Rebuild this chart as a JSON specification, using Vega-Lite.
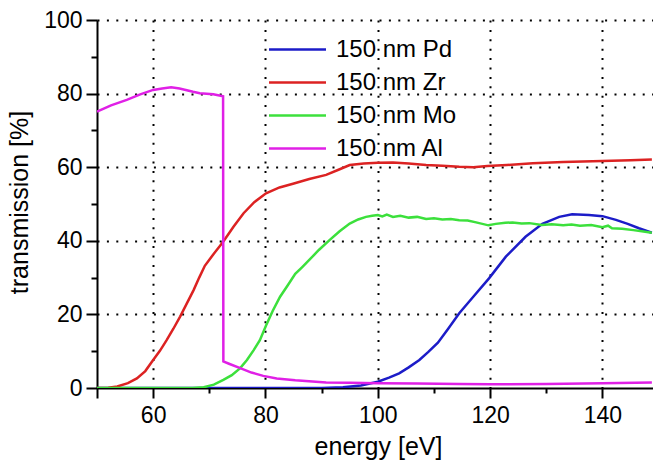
{
  "$schema": "https://vega.github.io/schema/vega-lite/v6.json",
  "width": 556,
  "height": 368,
  "autosize": "none",
  "padding": {"left": 97, "top": 20, "right": 0, "bottom": 73},
  "background": "white",
  "config": {
    "view": {"stroke": null},
    "font": "Liberation Sans",
    "axis": {
      "domainColor": "black", "domainWidth": 2,
      "tickColor": "black", "tickWidth": 2,
      "labelColor": "black", "labelFontSize": 23, "labelFont": "Liberation Sans",
      "titleColor": "black", "titleFontSize": 25, "titleFontWeight": "normal", "titleFont": "Liberation Sans",
      "gridColor": "black", "gridWidth": 2, "gridDash": [2, 7.4]
    }
  },
  "data": {
    "values": [
      {"E": 50, "T": 0, "s": "150 nm Pd"},
      {"E": 60, "T": 0, "s": "150 nm Pd"},
      {"E": 70, "T": 0, "s": "150 nm Pd"},
      {"E": 80, "T": 0, "s": "150 nm Pd"},
      {"E": 90, "T": 0, "s": "150 nm Pd"},
      {"E": 93.8, "T": 0.2, "s": "150 nm Pd"},
      {"E": 97, "T": 0.7, "s": "150 nm Pd"},
      {"E": 100, "T": 1.7, "s": "150 nm Pd"},
      {"E": 102, "T": 2.8, "s": "150 nm Pd"},
      {"E": 103.8, "T": 4, "s": "150 nm Pd"},
      {"E": 105.5, "T": 5.6, "s": "150 nm Pd"},
      {"E": 107.4, "T": 7.6, "s": "150 nm Pd"},
      {"E": 109, "T": 9.8, "s": "150 nm Pd"},
      {"E": 110.7, "T": 12.3, "s": "150 nm Pd"},
      {"E": 112.5, "T": 16, "s": "150 nm Pd"},
      {"E": 114.5, "T": 20.3, "s": "150 nm Pd"},
      {"E": 117, "T": 24.8, "s": "150 nm Pd"},
      {"E": 119.8, "T": 29.8, "s": "150 nm Pd"},
      {"E": 122.8, "T": 35.7, "s": "150 nm Pd"},
      {"E": 126.3, "T": 41.1, "s": "150 nm Pd"},
      {"E": 129.3, "T": 44.6, "s": "150 nm Pd"},
      {"E": 132.3, "T": 46.5, "s": "150 nm Pd"},
      {"E": 134.6, "T": 47.2, "s": "150 nm Pd"},
      {"E": 137.6, "T": 47, "s": "150 nm Pd"},
      {"E": 140, "T": 46.7, "s": "150 nm Pd"},
      {"E": 142.4, "T": 45.7, "s": "150 nm Pd"},
      {"E": 144.5, "T": 44.6, "s": "150 nm Pd"},
      {"E": 146.5, "T": 43.4, "s": "150 nm Pd"},
      {"E": 148.8, "T": 42.2, "s": "150 nm Pd"},

      {"E": 50, "T": 0, "s": "150 nm Zr"},
      {"E": 52, "T": 0.1, "s": "150 nm Zr"},
      {"E": 53.6, "T": 0.4, "s": "150 nm Zr"},
      {"E": 55.5, "T": 1.3, "s": "150 nm Zr"},
      {"E": 57.1, "T": 2.6, "s": "150 nm Zr"},
      {"E": 58.6, "T": 4.6, "s": "150 nm Zr"},
      {"E": 60, "T": 7.6, "s": "150 nm Zr"},
      {"E": 61.2, "T": 10.1, "s": "150 nm Zr"},
      {"E": 62.4, "T": 13, "s": "150 nm Zr"},
      {"E": 63.6, "T": 16.1, "s": "150 nm Zr"},
      {"E": 64.8, "T": 19.4, "s": "150 nm Zr"},
      {"E": 66, "T": 23, "s": "150 nm Zr"},
      {"E": 67.2, "T": 26.6, "s": "150 nm Zr"},
      {"E": 68.2, "T": 30, "s": "150 nm Zr"},
      {"E": 69.2, "T": 33.2, "s": "150 nm Zr"},
      {"E": 70.8, "T": 36.5, "s": "150 nm Zr"},
      {"E": 72.5, "T": 39.8, "s": "150 nm Zr"},
      {"E": 74.3, "T": 43.8, "s": "150 nm Zr"},
      {"E": 76.1, "T": 47.5, "s": "150 nm Zr"},
      {"E": 78, "T": 50.5, "s": "150 nm Zr"},
      {"E": 80.1, "T": 52.9, "s": "150 nm Zr"},
      {"E": 82.5, "T": 54.5, "s": "150 nm Zr"},
      {"E": 84.9, "T": 55.5, "s": "150 nm Zr"},
      {"E": 87.8, "T": 56.8, "s": "150 nm Zr"},
      {"E": 90.8, "T": 57.9, "s": "150 nm Zr"},
      {"E": 93, "T": 59.3, "s": "150 nm Zr"},
      {"E": 95, "T": 60.6, "s": "150 nm Zr"},
      {"E": 97.5, "T": 61, "s": "150 nm Zr"},
      {"E": 100, "T": 61.2, "s": "150 nm Zr"},
      {"E": 102.7, "T": 61.3, "s": "150 nm Zr"},
      {"E": 105.5, "T": 61, "s": "150 nm Zr"},
      {"E": 108.6, "T": 60.6, "s": "150 nm Zr"},
      {"E": 111.5, "T": 60.4, "s": "150 nm Zr"},
      {"E": 114.5, "T": 60.1, "s": "150 nm Zr"},
      {"E": 117, "T": 60, "s": "150 nm Zr"},
      {"E": 119.5, "T": 60.3, "s": "150 nm Zr"},
      {"E": 123, "T": 60.6, "s": "150 nm Zr"},
      {"E": 127.6, "T": 61.1, "s": "150 nm Zr"},
      {"E": 133, "T": 61.4, "s": "150 nm Zr"},
      {"E": 140, "T": 61.7, "s": "150 nm Zr"},
      {"E": 145, "T": 61.9, "s": "150 nm Zr"},
      {"E": 148.8, "T": 62.1, "s": "150 nm Zr"},

      {"E": 50, "T": 0, "s": "150 nm Mo"},
      {"E": 60, "T": 0, "s": "150 nm Mo"},
      {"E": 67, "T": 0, "s": "150 nm Mo"},
      {"E": 69, "T": 0.2, "s": "150 nm Mo"},
      {"E": 70.8, "T": 0.9, "s": "150 nm Mo"},
      {"E": 72.5, "T": 2.2, "s": "150 nm Mo"},
      {"E": 74, "T": 3.5, "s": "150 nm Mo"},
      {"E": 75.5, "T": 5.4, "s": "150 nm Mo"},
      {"E": 76.7, "T": 7.6, "s": "150 nm Mo"},
      {"E": 77.9, "T": 10.3, "s": "150 nm Mo"},
      {"E": 79, "T": 13, "s": "150 nm Mo"},
      {"E": 80.1, "T": 17, "s": "150 nm Mo"},
      {"E": 81.3, "T": 21, "s": "150 nm Mo"},
      {"E": 82.6, "T": 24.8, "s": "150 nm Mo"},
      {"E": 84, "T": 28, "s": "150 nm Mo"},
      {"E": 85.3, "T": 31, "s": "150 nm Mo"},
      {"E": 86.5, "T": 32.8, "s": "150 nm Mo"},
      {"E": 87.8, "T": 34.8, "s": "150 nm Mo"},
      {"E": 89.5, "T": 37.5, "s": "150 nm Mo"},
      {"E": 91.4, "T": 40.2, "s": "150 nm Mo"},
      {"E": 93.2, "T": 42.6, "s": "150 nm Mo"},
      {"E": 95, "T": 44.7, "s": "150 nm Mo"},
      {"E": 96.5, "T": 45.8, "s": "150 nm Mo"},
      {"E": 97.9, "T": 46.5, "s": "150 nm Mo"},
      {"E": 99, "T": 46.8, "s": "150 nm Mo"},
      {"E": 100, "T": 47, "s": "150 nm Mo"},
      {"E": 100.8, "T": 46.6, "s": "150 nm Mo"},
      {"E": 101.6, "T": 47.1, "s": "150 nm Mo"},
      {"E": 102.7, "T": 46.5, "s": "150 nm Mo"},
      {"E": 104, "T": 46.8, "s": "150 nm Mo"},
      {"E": 105.5, "T": 46.3, "s": "150 nm Mo"},
      {"E": 107, "T": 46.5, "s": "150 nm Mo"},
      {"E": 108.6, "T": 45.9, "s": "150 nm Mo"},
      {"E": 110, "T": 46.1, "s": "150 nm Mo"},
      {"E": 111.5, "T": 45.8, "s": "150 nm Mo"},
      {"E": 113, "T": 45.9, "s": "150 nm Mo"},
      {"E": 114.5, "T": 45.6, "s": "150 nm Mo"},
      {"E": 116, "T": 45.5, "s": "150 nm Mo"},
      {"E": 117.5, "T": 45, "s": "150 nm Mo"},
      {"E": 119.7, "T": 44.2, "s": "150 nm Mo"},
      {"E": 121, "T": 44.6, "s": "150 nm Mo"},
      {"E": 122.7, "T": 44.9, "s": "150 nm Mo"},
      {"E": 124, "T": 45, "s": "150 nm Mo"},
      {"E": 125.6, "T": 44.7, "s": "150 nm Mo"},
      {"E": 127, "T": 44.8, "s": "150 nm Mo"},
      {"E": 129.2, "T": 44.3, "s": "150 nm Mo"},
      {"E": 131, "T": 44.5, "s": "150 nm Mo"},
      {"E": 133, "T": 44.2, "s": "150 nm Mo"},
      {"E": 134.5, "T": 44.4, "s": "150 nm Mo"},
      {"E": 136, "T": 44.1, "s": "150 nm Mo"},
      {"E": 138, "T": 44.3, "s": "150 nm Mo"},
      {"E": 140, "T": 43.7, "s": "150 nm Mo"},
      {"E": 141, "T": 44.1, "s": "150 nm Mo"},
      {"E": 141.7, "T": 43.4, "s": "150 nm Mo"},
      {"E": 143.5, "T": 43.3, "s": "150 nm Mo"},
      {"E": 145.5, "T": 42.9, "s": "150 nm Mo"},
      {"E": 147, "T": 42.6, "s": "150 nm Mo"},
      {"E": 148.8, "T": 42.2, "s": "150 nm Mo"},

      {"E": 50, "T": 75.1, "s": "150 nm Al"},
      {"E": 52.5, "T": 76.8, "s": "150 nm Al"},
      {"E": 55.3, "T": 78.3, "s": "150 nm Al"},
      {"E": 57.7, "T": 79.8, "s": "150 nm Al"},
      {"E": 60, "T": 81, "s": "150 nm Al"},
      {"E": 61.6, "T": 81.4, "s": "150 nm Al"},
      {"E": 63.2, "T": 81.7, "s": "150 nm Al"},
      {"E": 64.7, "T": 81.4, "s": "150 nm Al"},
      {"E": 67.1, "T": 80.5, "s": "150 nm Al"},
      {"E": 68.3, "T": 80.1, "s": "150 nm Al"},
      {"E": 70.7, "T": 79.8, "s": "150 nm Al"},
      {"E": 72.45, "T": 79.3, "s": "150 nm Al"},
      {"E": 72.5, "T": 7.2, "s": "150 nm Al"},
      {"E": 73.5, "T": 6.6, "s": "150 nm Al"},
      {"E": 75.5, "T": 5.4, "s": "150 nm Al"},
      {"E": 77.5, "T": 4.2, "s": "150 nm Al"},
      {"E": 79.6, "T": 3.3, "s": "150 nm Al"},
      {"E": 82, "T": 2.6, "s": "150 nm Al"},
      {"E": 85.3, "T": 2.1, "s": "150 nm Al"},
      {"E": 90.8, "T": 1.5, "s": "150 nm Al"},
      {"E": 95, "T": 1.4, "s": "150 nm Al"},
      {"E": 100, "T": 1.3, "s": "150 nm Al"},
      {"E": 107, "T": 1.2, "s": "150 nm Al"},
      {"E": 114.5, "T": 1.1, "s": "150 nm Al"},
      {"E": 120, "T": 1, "s": "150 nm Al"},
      {"E": 130, "T": 1.1, "s": "150 nm Al"},
      {"E": 140, "T": 1.3, "s": "150 nm Al"},
      {"E": 148.8, "T": 1.5, "s": "150 nm Al"}
    ]
  },
  "mark": {"type": "line", "strokeWidth": 2.5, "clip": true},
  "encoding": {
    "x": {
      "field": "E", "type": "quantitative",
      "scale": {"domain": [50, 149], "nice": false, "zero": false},
      "axis": {
        "title": "energy [eV]",
        "titleX": 281,
        "values": [50, 60, 70, 80, 90, 100, 110, 120, 130, 140],
        "labelExpr": "datum.value % 20 === 0 ? datum.label : ''",
        "tickSize": {"condition": {"test": "datum.value % 20 === 0 || datum.value === 50", "value": 10}, "value": 5},
        "gridOpacity": {"condition": {"test": "datum.value % 20 === 0", "value": 1}, "value": 0},
        "labelPadding": 6,
        "titlePadding": 7
      }
    },
    "y": {
      "field": "T", "type": "quantitative",
      "scale": {"domain": [0, 100], "nice": false},
      "axis": {
        "title": "transmission [%]",
        "titleY": 182,
        "values": [0, 10, 20, 30, 40, 50, 60, 70, 80, 90, 100],
        "labelExpr": "datum.value % 20 === 0 ? datum.label : ''",
        "tickSize": {"condition": {"test": "datum.value % 20 === 0", "value": 11}, "value": 6},
        "gridOpacity": {"condition": {"test": "datum.value % 20 === 0 && datum.value > 0", "value": 1}, "value": 0},
        "labelPadding": 4,
        "titlePadding": 11
      }
    },
    "color": {
      "field": "s", "type": "nominal",
      "scale": {
        "domain": ["150 nm Pd", "150 nm Zr", "150 nm Mo", "150 nm Al"],
        "range": ["#1c1cc8", "#dc2222", "#3ce03c", "#e020e6"]
      },
      "legend": {
        "title": null,
        "orient": "none",
        "legendX": 185,
        "legendY": 14,
        "symbolType": "M-2,0H2",
        "symbolSize": 812,
        "symbolStrokeWidth": 2.5,
        "labelFontSize": 24,
        "labelColor": "black",
        "labelOffset": 23,
        "rowPadding": 5
      }
    }
  }
}
